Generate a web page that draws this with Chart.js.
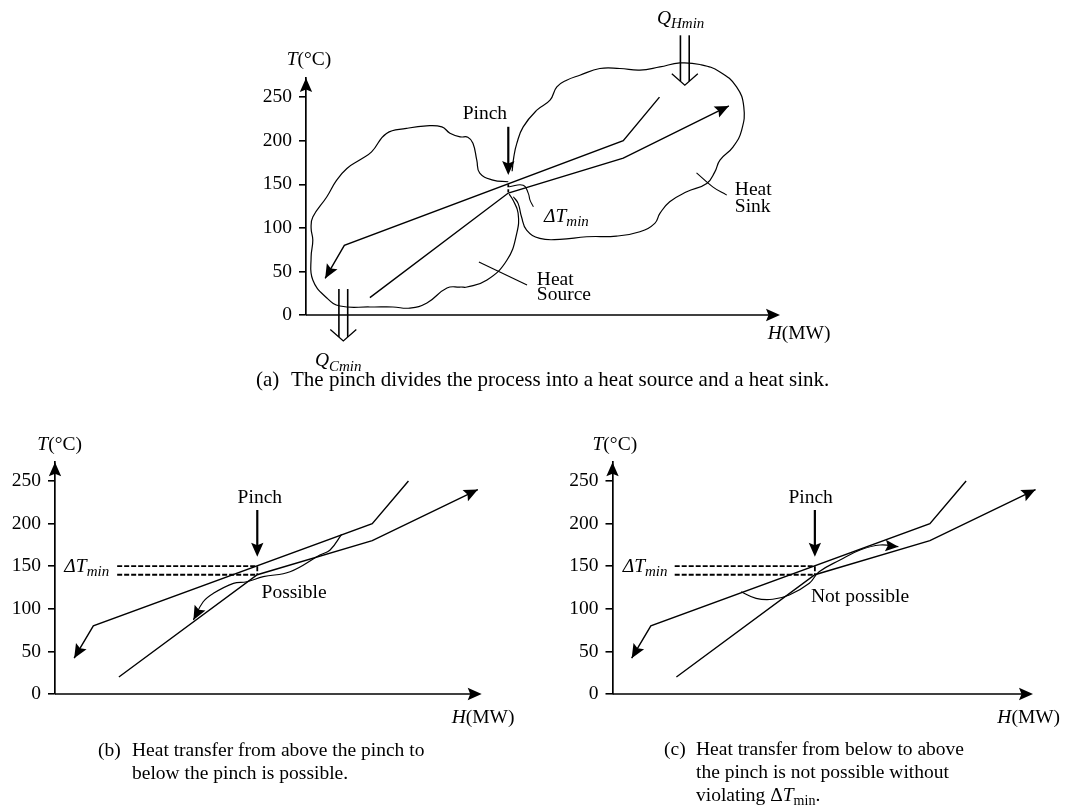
<!DOCTYPE html>
<html lang="en">
<head>
<meta charset="utf-8">
<title>Pinch</title>
<script src="https://cdn.jsdelivr.net/npm/chart.js@4.4.1/dist/chart.umd.min.js"></script>
<style>
  html, body { margin: 0; background: #fff; }
  #page { position: relative; width: 1086px; height: 810px; overflow: hidden; }
  #page canvas { position: absolute; left: 0; top: 0; }
  .cap { position: absolute; font-family: "Liberation Serif", serif; font-size: 19.5px; line-height: 23.3px; white-space: nowrap; color: #000; }
  .cap sub { font-size: 14px; line-height: 0; vertical-align: -4px; }
</style>
</head>
<body>
<div id="page">
  <canvas id="chartA" width="1086" height="810"></canvas>
  <canvas id="chartB" width="1086" height="810"></canvas>
  <canvas id="chartC" width="1086" height="810"></canvas>
  <div class="cap" style="left:256px; top:368px; font-size:21px;">(a)</div>
  <div class="cap" style="left:291px; top:368px; font-size:21px;">The pinch divides the process into a heat source and a heat sink.</div>
  <div class="cap" style="left:98px; top:738px;">(b)</div>
  <div class="cap" style="left:132px; top:738px;">Heat transfer from above the pinch to<br>below the pinch is possible.</div>
  <div class="cap" style="left:664px; top:736.5px;">(c)</div>
  <div class="cap" style="left:696px; top:736.5px;">Heat transfer from below to above<br>the pinch is not possible without<br>violating Δ<i>T</i><sub>min</sub>.</div>
</div>
<script>
// Temperature axis, °C
const tempTicks = [0, 50, 100, 150, 200, 250];
const tempMax = 272;

// Hot composite curve: top end -> arrow (H in MW, T in °C)
const hotH = [83, 74.5, 9, 4.5];
const hotT = [250, 200, 80, 42];

// Cold composite curve: start -> arrow
const coldH = [15, 47.5, 74.5, 99.3];
const coldT = [20, 140, 180, 240];

// Pinch and ΔTmin
const pinchH = 47.5;
const pinchHotT = 150;
const pinchColdT = 140;
const dashStartH = 14.6;

// (a) outline of the heat source (below the pinch)
const sourceH = [47.5, 43.9, 40.8, 40.1, 39.2, 38.0, 36.2, 33.8, 31.9, 28.3, 23.6, 18.9, 15.4, 12.7, 9.6, 7.2, 4.9, 1.6, 1.2, 1.6, 1.2, 1.6, 4.9, 8, 15, 20.4, 24.4, 28.4, 33.1, 36.2, 37.8, 42.5, 47.2, 49.5, 49.8, 48.6, 47.7];
const sourceT = [152.9, 154.8, 162.8, 177.8, 197.2, 204.1, 204.5, 208.7, 215.9, 217.1, 214.1, 208.4, 187.3, 178.2, 168.2, 154.8, 135.7, 112.4, 99.8, 86, 66.5, 40.1, 19.5, 10.3, 9.2, 9.2, 8, 13.8, 31, 32.1, 32.1, 40.1, 63.1, 94, 117, 131.9, 138.8];

// (a) outline of the heat sink (above the pinch)
const sinkH = [48.4, 48.8, 49.5, 51, 54.2, 57.3, 58.9, 61.2, 64.3, 69, 73.7, 78.4, 83.1, 87.8, 92.5, 97.2, 101.1, 102.8, 102.3, 100.3, 97.2, 96, 94.1, 89.4, 85.4, 83.1, 81.9, 78.4, 72.9, 65.9, 59.6, 54.9, 51.8, 50.6, 49.8, 48.7];
const sinkT = [165, 181.5, 196.9, 215.9, 235.1, 246.6, 261.8, 269.5, 275.2, 282.9, 282.9, 281, 284.7, 289.3, 287.5, 279, 261.8, 238.9, 212.2, 193, 177.8, 164.3, 151, 141.4, 129.9, 116.6, 105.2, 95.5, 90.6, 89.8, 86.8, 88, 97.5, 112.7, 128.1, 135.7];

// (a) leader lines to the labels
const dtLeaderH = [47.7, 51, 52.2, 52.6, 53.4];
const dtLeaderT = [147.2, 149, 139.6, 131.9, 124.2];
const sourceLeaderH = [40.6, 51.9];
const sourceLeaderT = [60.8, 34.4];
const sinkLeaderH = [91.7, 95.5, 98.8];
const sinkLeaderT = [163.2, 147.1, 137.6];

// (b) heat moved from above to below the pinch
const possibleH = [67.3, 64.6, 62.2, 55.2, 48.9, 45, 41.9, 37.2, 34.8, 32.5];
const possibleT = [187.4, 169, 163.1, 143.5, 137.7, 131.8, 129.9, 118.2, 108.3, 87];

// (c) heat moved from below to above the pinch
const notPossibleH = [30.2, 33.7, 37.6, 41.5, 46.2, 48.5, 53.4, 58.1, 62.8, 67.1];
const notPossibleT = [120, 112.3, 111.2, 116.2, 130, 143.5, 157.3, 169, 174.9, 172.9];

const SERIF = '"Liberation Serif", serif';
const FS = 19.5;
const SUB = 15;

const DT = [['Δ', 'i'], ['T', 'i'], ['min', 'si']];

const panelA = {
    canvas: 'chartA',
    padding: { left: 256, right: 306, top: 78, bottom: 495 },
    hMax: 111.3,
    tLabel: [-19.3, -19.7],
    hLabel: [-12.3, 17.7],
    dashFull: false,
    pinchArrow: [216, 160.6],
    qArrows: [{ h: 88.95, from: 321, to: 263.8 }, { h: 8.76, from: 29.8, to: -29.8 }],
    notes: [
        { h: 42, t: 232, parts: [['Pinch', 'r']], align: 'center' },
        { h: 55.9, t: 114.7, parts: DT },
        { h: 54.2, t: 42.4, parts: [['Heat', 'r']] },
        { h: 54.2, t: 25.2, parts: [['Source', 'r']] },
        { h: 100.7, t: 145.3, parts: [['Heat', 'r']] },
        { h: 100.7, t: 126.1, parts: [['Sink', 'r']] },
        { h: 82.4, t: 341.7, parts: [['Q', 'i'], ['Hmin', 'si']] },
        { h: 2.1, t: -51.6, parts: [['Q', 'i'], ['Cmin', 'si']] }
    ]
};

const panelB = {
    canvas: 'chartB',
    padding: { left: 5, right: 604.3, top: 462.3, bottom: 116 },
    hMax: 100.2,
    tLabel: [-17.7, -19],
    hLabel: [-30, 22],
    dashFull: true,
    pinchArrow: [216, 161],
    qArrows: [],
    notes: [
        { h: 48.1, t: 232, parts: [['Pinch', 'r']], align: 'center' },
        { h: 2.2, t: 151, parts: DT },
        { h: 48.5, t: 120, parts: [['Possible', 'r']] }
    ]
};

const panelC = {
    canvas: 'chartC',
    padding: { left: 562.5, right: 53, top: 462.3, bottom: 116 },
    hMax: 98.7,
    tLabel: [-20, -19],
    hLabel: [-35.7, 22],
    dashFull: true,
    pinchArrow: [216, 161],
    qArrows: [],
    notes: [
        { h: 46.5, t: 232, parts: [['Pinch', 'r']], align: 'center' },
        { h: 2.4, t: 151, parts: DT },
        { h: 46.6, t: 116.2, parts: [['Not possible', 'r']] }
    ]
};

function curve(hs, ts, opts) {
    return Object.assign({
        data: hs.map((h, i) => ({ x: h, y: ts[i] })),
        showLine: true,
        borderColor: '#000',
        borderWidth: 1.4,
        pointRadius: 0,
        pointHoverRadius: 0,
        tension: 0,
        clip: false
    }, opts || {});
}

function stroke(ctx, pts, w) {
    ctx.lineWidth = w;
    ctx.beginPath();
    pts.forEach((p, i) => i ? ctx.lineTo(p[0], p[1]) : ctx.moveTo(p[0], p[1]));
    ctx.stroke();
}

// Filled arrow head, tip at (tx, ty)
function arrowHead(ctx, fx, fy, tx, ty, len) {
    const a = Math.atan2(ty - fy, tx - fx);
    const ux = Math.cos(a), uy = Math.sin(a);
    const half = len * 0.44;
    const bx = tx - ux * len, by = ty - uy * len;
    ctx.beginPath();
    ctx.moveTo(tx, ty);
    ctx.lineTo(bx - uy * half, by + ux * half);
    ctx.lineTo(tx - ux * len * 0.82, ty - uy * len * 0.82);
    ctx.lineTo(bx + uy * half, by - ux * half);
    ctx.closePath();
    ctx.fill();
}

// Double shaft with an open head (Q arrows)
function doubleArrow(ctx, x, y0, y1) {
    const d = Math.sign(y1 - y0);
    stroke(ctx, [[x - 4.4, y0], [x - 4.4, y1 - d * 4]], 1.6);
    stroke(ctx, [[x + 4.4, y0], [x + 4.4, y1 - d * 4]], 1.6);
    stroke(ctx, [[x - 13, y1 - d * 11.5], [x, y1], [x + 13, y1 - d * 11.5]], 1.3);
}

function fontOf(style) {
    const size = style.includes('s') ? SUB : FS;
    return (style.includes('i') ? 'italic ' : '') + size + 'px ' + SERIF;
}

// Text made of pieces: 'r' roman, 'i' italic, 's' subscript
function richText(ctx, x, cy, parts, align) {
    let w = 0;
    parts.forEach(([txt, st]) => { ctx.font = fontOf(st); w += ctx.measureText(txt).width; });
    let cx = align === 'center' ? x - w / 2 : x;
    ctx.textAlign = 'left';
    ctx.textBaseline = 'alphabetic';
    parts.forEach(([txt, st]) => {
        ctx.font = fontOf(st);
        ctx.fillText(txt, cx, cy + 6.5 + (st.includes('s') ? 4.5 : 0));
        cx += ctx.measureText(txt).width;
    });
}

function sketch(panel) {
    return {
        id: 'sketch',
        afterDatasetsDraw(chart) {
            const ctx = chart.ctx;
            const sx = chart.scales.x, sy = chart.scales.y;
            const X = h => sx.getPixelForValue(h);
            const Y = t => sy.getPixelForValue(t);
            ctx.save();
            ctx.fillStyle = '#000';
            ctx.strokeStyle = '#000';
            ctx.lineCap = 'butt';

            // Axes with arrows
            const ox = X(0), oy = Y(0), endX = X(sx.max), topY = Y(sy.max);
            stroke(ctx, [[ox, oy], [endX - 5, oy]], 1.7);
            arrowHead(ctx, ox, oy, endX, oy, 14);
            arrowHead(ctx, ox, oy, ox, topY, 14);
            richText(ctx, ox + panel.tLabel[0], topY + panel.tLabel[1], [['T', 'i'], ['(°C)', 'r']]);
            richText(ctx, endX + panel.hLabel[0], oy + panel.hLabel[1], [['H', 'i'], ['(MW)', 'r']]);

            // Arrow heads at the ends of curves
            chart.data.datasets.forEach((ds, i) => {
                if (!ds.arrow) return;
                const els = chart.getDatasetMeta(i).data;
                const a = els[els.length - 2], b = els[els.length - 1];
                arrowHead(ctx, a.x, a.y, b.x, b.y, ds.arrow);
            });

            // ΔTmin dashes
            const px = X(pinchH);
            if (panel.dashFull) {
                ctx.setLineDash([5, 2]);
                stroke(ctx, [[X(dashStartH), Y(pinchHotT)], [px, Y(pinchHotT)]], 1.8);
                stroke(ctx, [[X(dashStartH), Y(pinchColdT)], [px, Y(pinchColdT)]], 1.8);
            } else {
                ctx.setLineDash([3, 2]);
            }
            stroke(ctx, [[px, Y(pinchHotT)], [px, Y(pinchColdT)]], 1.8);
            ctx.setLineDash([]);

            // Pinch arrow
            const py0 = Y(panel.pinchArrow[0]), py1 = Y(panel.pinchArrow[1]);
            stroke(ctx, [[px, py0], [px, py1 - 6]], 2.2);
            arrowHead(ctx, px, py0, px, py1, 14);

            // Q arrows
            panel.qArrows.forEach(q => doubleArrow(ctx, X(q.h), Y(q.from), Y(q.to)));

            // Labels
            panel.notes.forEach(n => richText(ctx, X(n.h), Y(n.t), n.parts, n.align));
            ctx.restore();
        }
    };
}

function makeChart(panel, sets) {
    return new Chart(document.getElementById(panel.canvas), {
        type: 'scatter',
        data: { datasets: sets },
        options: {
            responsive: false,
            animation: false,
            devicePixelRatio: 1,
            events: [],
            layout: { padding: panel.padding },
            elements: { line: { capBezierPoints: false } },
            plugins: { legend: { display: false }, tooltip: { enabled: false } },
            scales: {
                x: { type: 'linear', min: 0, max: panel.hMax, display: false },
                y: {
                    type: 'linear',
                    min: 0,
                    max: tempMax,
                    afterFit: s => { s.width = 50; },
                    afterBuildTicks: s => { s.ticks = tempTicks.map(v => ({ value: v })); },
                    grid: { drawOnChartArea: false, drawTicks: true, tickLength: 7, color: '#000', lineWidth: 1.6 },
                    border: { display: true, color: '#000', width: 1.7 },
                    ticks: { color: '#000', padding: 7, font: { family: SERIF, size: FS } }
                }
            }
        },
        plugins: [sketch(panel)]
    });
}

function compositeCurves() {
    return [
        curve(hotH, hotT, { arrow: 14 }),
        curve(coldH, coldT, { arrow: 14 })
    ];
}

// (a) pinch splits the process
makeChart(panelA, compositeCurves().concat([
    curve(sourceH, sourceT, { borderWidth: 1.2, tension: 0.45 }),
    curve(sinkH, sinkT, { borderWidth: 1.2, tension: 0.45 }),
    curve(dtLeaderH, dtLeaderT, { borderWidth: 1.1, tension: 0.45 }),
    curve(sourceLeaderH, sourceLeaderT, { borderWidth: 1.1 }),
    curve(sinkLeaderH, sinkLeaderT, { borderWidth: 1.1, tension: 0.45 })
]));

// (b) possible
makeChart(panelB, compositeCurves().concat([
    curve(possibleH, possibleT, { borderWidth: 1.2, tension: 0.4, arrow: 14 })
]));

// (c) not possible
makeChart(panelC, compositeCurves().concat([
    curve(notPossibleH, notPossibleT, { borderWidth: 1.2, tension: 0.4, arrow: 13 })
]));
</script>
</body>
</html>
